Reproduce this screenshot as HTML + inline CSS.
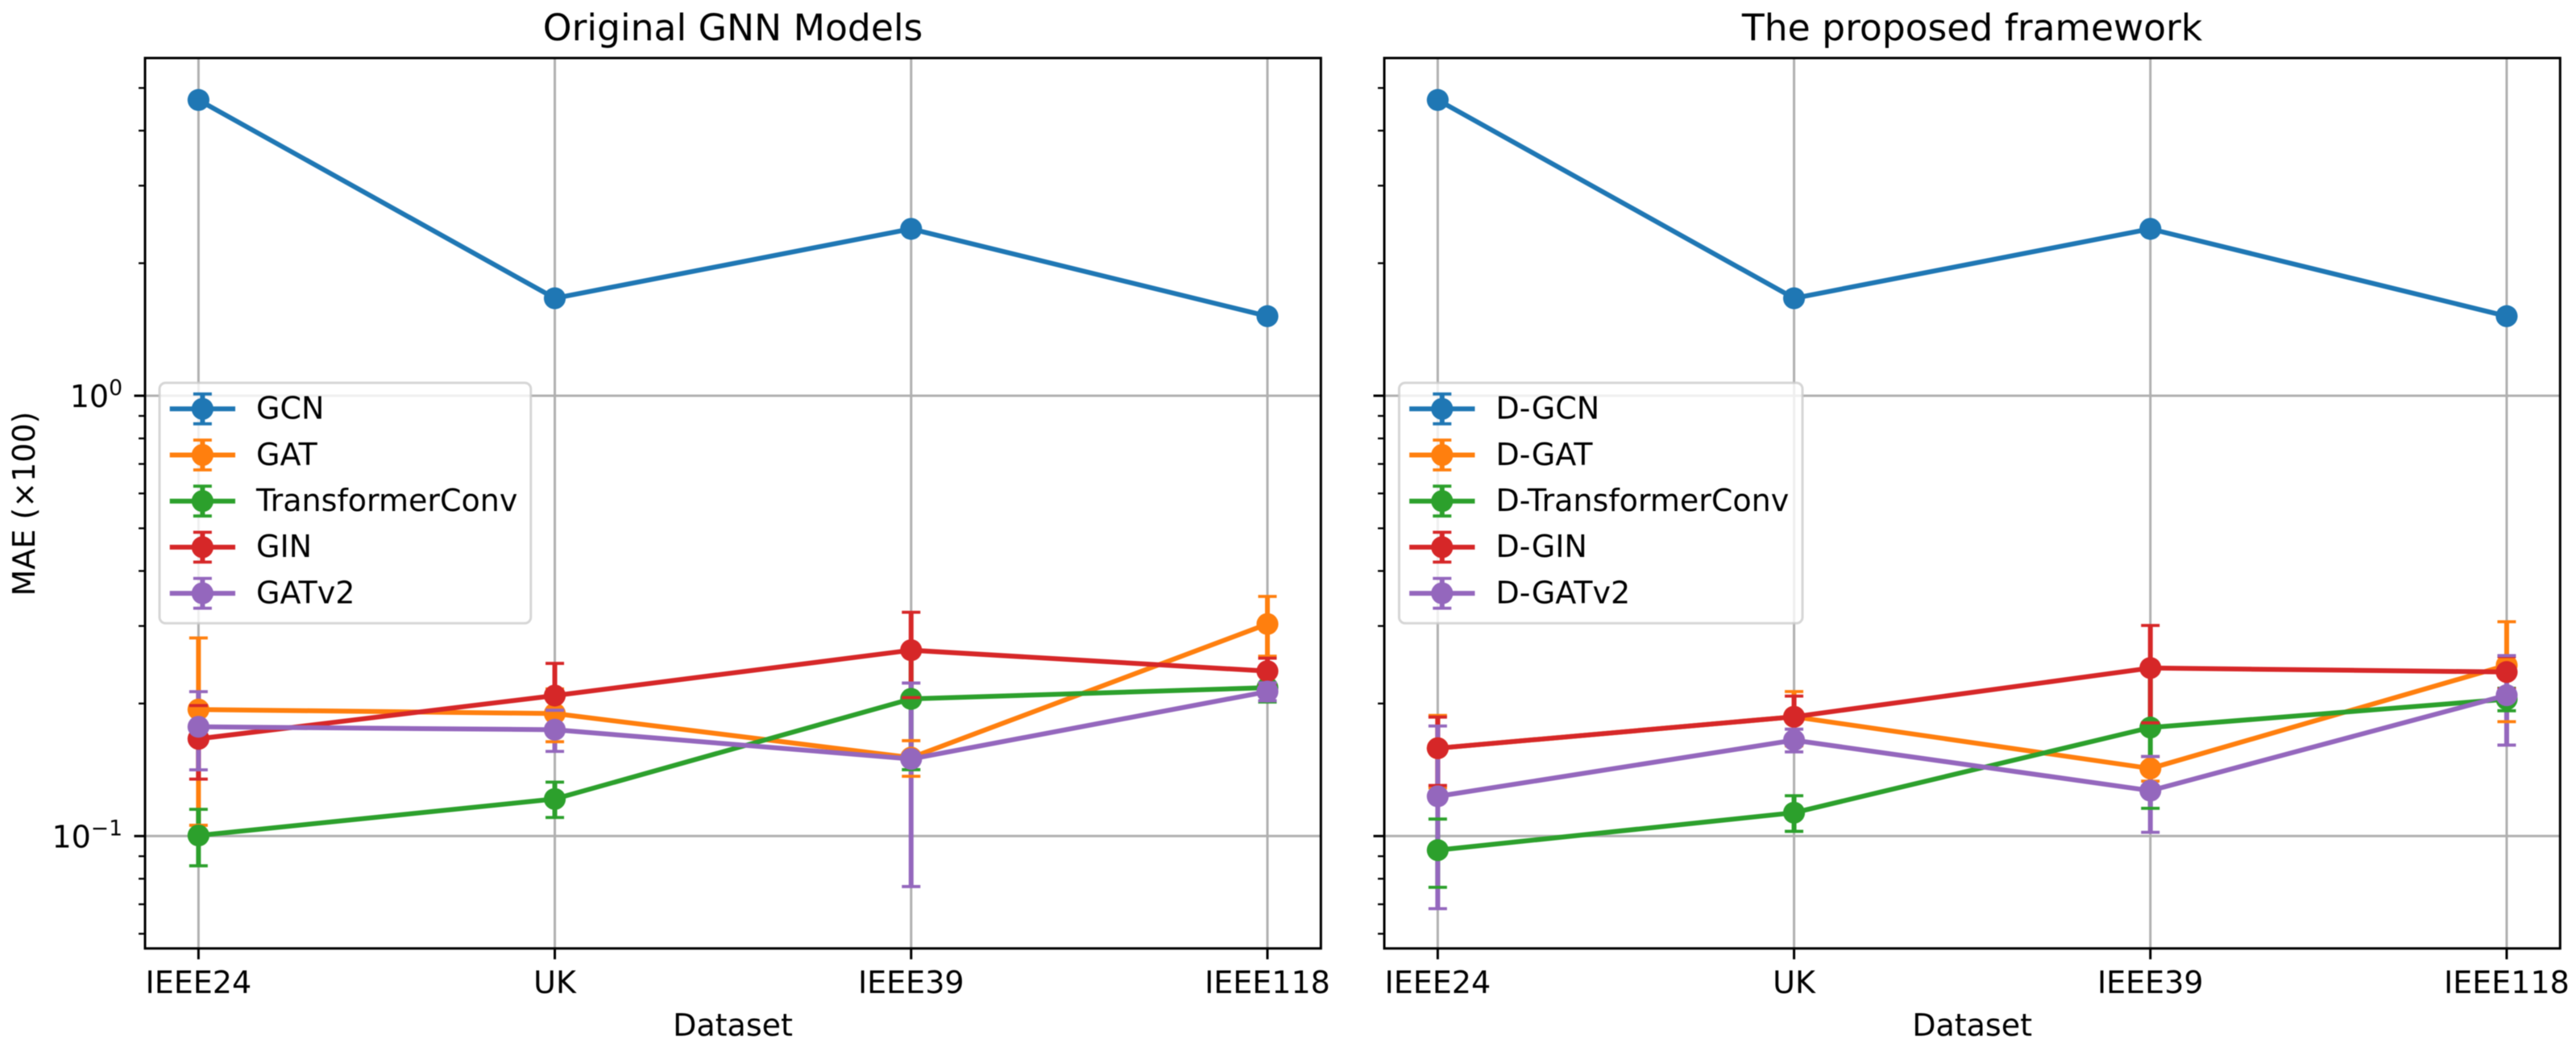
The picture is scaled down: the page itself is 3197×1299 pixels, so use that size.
<!DOCTYPE html>
<html lang="en">
<head>
<meta charset="utf-8">
<title>MAE comparison of GNN models</title>
<style>
html,body{margin:0;padding:0;background:#fff;width:3197px;height:1299px;overflow:hidden}
svg{display:block;filter:blur(0.6px)}
text{font-family:"DejaVu Sans","Liberation Sans",sans-serif;fill:#000}
</style>
</head>
<body>
<svg id="chart" xmlns="http://www.w3.org/2000/svg" width="3197" height="1299" viewBox="0 0 3197 1299">
<rect x="0" y="0" width="3197" height="1299" fill="#ffffff"/>
<text x="909.5" y="50" font-size="45.6" text-anchor="middle">Original GNN Models</text>
<text x="2447.6" y="50" font-size="45.6" text-anchor="middle">The proposed framework</text>
<text x="909.5" y="1285" font-size="38" text-anchor="middle">Dataset</text>
<text x="2447.6" y="1285" font-size="38" text-anchor="middle">Dataset</text>
<text transform="translate(43 625) rotate(-90)" font-size="38" text-anchor="middle">MAE (×100)</text>
</svg>
<script>
const categories = ["IEEE24", "UK", "IEEE39", "IEEE118"];
const seriesColors = ["#1f77b4", "#ff7f0e", "#2ca02c", "#d62728", "#9467bd"];
const leftSeriesNames = ["GCN", "GAT", "TransformerConv", "GIN", "GATv2"];
const rightSeriesNames = ["D-GCN", "D-GAT", "D-TransformerConv", "D-GIN", "D-GATv2"];

const yMajorTicks = [1, 0.1];
const yMajorBases = ["10", "10"];
const yMajorExponents = ["0", "\u22121"];
const yMinorTicks = [0.06, 0.07, 0.08, 0.09, 0.2, 0.3, 0.4, 0.5, 0.6, 0.7, 0.8, 0.9, 2, 3, 4, 5];

const leftGcnMean = [4.696, 1.665, 2.393, 1.516];
const leftGcnErr = [0.01, 0.01, 0.01, 0.01];
const leftGatMean = [0.1938, 0.1898, 0.1507, 0.3031];
const leftGatErr = [0.088, 0.026, 0.014, 0.047];
const leftTransformerMean = [0.1003, 0.1214, 0.2049, 0.2173];
const leftTransformerErr = [0.0147, 0.0112, 0.0634, 0.0157];
const leftGinMean = [0.1663, 0.2085, 0.2643, 0.2369];
const leftGinErr = [0.0316, 0.0382, 0.058, 0.0166];
const leftGatv2Mean = [0.1771, 0.1744, 0.1497, 0.2129];
const leftGatv2Err = [0.0357, 0.0187, 0.0729, 0.01];

const rightGcnMean = [4.696, 1.665, 2.393, 1.516];
const rightGcnErr = [0.01, 0.01, 0.01, 0.01];
const rightGatMean = [0.1583, 0.1866, 0.1424, 0.2443];
const rightGatErr = [0.0296, 0.0263, 0.0091, 0.0624];
const rightTransformerMean = [0.0929, 0.113, 0.1764, 0.2046];
const rightTransformerErr = [0.0164, 0.0105, 0.0608, 0.012];
const rightGinMean = [0.1583, 0.1866, 0.2408, 0.2358];
const rightGinErr = [0.028, 0.0213, 0.06, 0.0198];
const rightGatv2Mean = [0.1231, 0.1651, 0.1268, 0.2089];
const rightGatv2Err = [0.0547, 0.0098, 0.0248, 0.048];

const leftMeans = [leftGcnMean, leftGatMean, leftTransformerMean, leftGinMean, leftGatv2Mean];
const leftErrs = [leftGcnErr, leftGatErr, leftTransformerErr, leftGinErr, leftGatv2Err];
const rightMeans = [rightGcnMean, rightGatMean, rightTransformerMean, rightGinMean, rightGatv2Mean];
const rightErrs = [rightGcnErr, rightGatErr, rightTransformerErr, rightGinErr, rightGatv2Err];

const NS = "http://www.w3.org/2000/svg";
const svg = document.getElementById("chart");
const plotTop = 72;
const plotBottom = 1176.7;
const decadeOne = 491;
const decadePx = 546.3;
const markerR = 13.6;
const capHalf = 11.5;
const lw = 6;
const fontSize = 38;

function yScale(v) { return decadeOne - decadePx * Math.log10(v); }
function slug(s) { return s.toLowerCase().replace(/[^a-z0-9]+/g, "-"); }

function addGroup(parent, name) {
  const g = document.createElementNS(NS, "g");
  
  
  parent.appendChild(g);
  return g;
}
function addLine(parent, name, x1, y1, x2, y2, color, width) {
  const el = document.createElementNS(NS, "line");
  
  
  el.setAttribute("x1", x1);
  el.setAttribute("y1", y1);
  el.setAttribute("x2", x2);
  el.setAttribute("y2", y2);
  el.setAttribute("stroke", color);
  el.setAttribute("stroke-width", width);
  parent.appendChild(el);
  return el;
}
function addMarker(parent, name, x, y, color) {
  const el = document.createElementNS(NS, "circle");
  
  
  el.setAttribute("cx", x);
  el.setAttribute("cy", y);
  el.setAttribute("r", markerR);
  el.setAttribute("fill", color);
  parent.appendChild(el);
  return el;
}
function addText(parent, name, x, y, size, anchor, content) {
  const el = document.createElementNS(NS, "text");
  
  
  el.setAttribute("x", x);
  el.setAttribute("y", y);
  el.setAttribute("font-size", size);
  el.setAttribute("text-anchor", anchor);
  el.textContent = content;
  parent.appendChild(el);
  return el;
}

function drawPanel(prefix, left, right, names, means, errs, legendBox, showYLabels) {
  const panel = addGroup(svg, prefix + "-panel");
  const xScale = function (i) { return left + (i + 0.15) / 3.3 * (right - left); };

  const grid = addGroup(panel, prefix + "-grid");
  categories.forEach(function (c, i) {
    addLine(grid, prefix + "-gridline-" + slug(c), xScale(i), plotTop, xScale(i), plotBottom, "#b0b0b0", 3);
  });
  yMajorTicks.forEach(function (v) {
    addLine(grid, prefix + "-gridline-y-" + v, left, yScale(v), right, yScale(v), "#b0b0b0", 3);
  });

  const bars = addGroup(panel, prefix + "-error-bars");
  names.forEach(function (n, s) {
    means[s].forEach(function (m, i) {
      addLine(bars, prefix + "-error-bar-" + slug(n) + "-" + slug(categories[i]), xScale(i), yScale(m + errs[s][i]), xScale(i), yScale(m - errs[s][i]), seriesColors[s], lw);
    });
  });

  const seriesLayer = addGroup(panel, prefix + "-series");
  names.forEach(function (n, s) {
    const g = addGroup(seriesLayer, prefix + "-series-" + slug(n));
    const poly = document.createElementNS(NS, "polyline");
    
    
    poly.setAttribute("points", means[s].map(function (m, i) { return xScale(i) + "," + yScale(m); }).join(" "));
    poly.setAttribute("fill", "none");
    poly.setAttribute("stroke", seriesColors[s]);
    poly.setAttribute("stroke-width", lw);
    poly.setAttribute("stroke-linejoin", "round");
    g.appendChild(poly);
    means[s].forEach(function (m, i) {
      addMarker(g, "point-" + slug(n) + "-" + slug(categories[i]), xScale(i), yScale(m), seriesColors[s]);
      addLine(g, "cap-upper-" + slug(n) + "-" + slug(categories[i]), xScale(i) - capHalf, yScale(m + errs[s][i]), xScale(i) + capHalf, yScale(m + errs[s][i]), seriesColors[s], 3.8);
      addLine(g, "cap-lower-" + slug(n) + "-" + slug(categories[i]), xScale(i) - capHalf, yScale(m - errs[s][i]), xScale(i) + capHalf, yScale(m - errs[s][i]), seriesColors[s], 3.8);
    });
  });

  const ticks = addGroup(panel, prefix + "-ticks");
  categories.forEach(function (c, i) {
    addLine(ticks, prefix + "-x-tick-" + slug(c), xScale(i), plotBottom, xScale(i), plotBottom + 13.5, "#000", 3);
    addText(ticks, prefix + "-x-tick-label-" + slug(c), xScale(i), 1232, fontSize, "middle", c);
  });
  yMinorTicks.forEach(function (v) {
    addLine(ticks, prefix + "-y-minor-tick-" + v, left - 8, yScale(v), left, yScale(v), "#000", 2.3);
  });
  yMajorTicks.forEach(function (v, k) {
    addLine(ticks, prefix + "-y-major-tick-" + v, left - 13.5, yScale(v), left, yScale(v), "#000", 3);
    if (showYLabels) {
      const label = addText(ticks, prefix + "-y-tick-label-" + v, 152, yScale(v) + 14, fontSize, "end", yMajorBases[k]);
      const sup = document.createElementNS(NS, "tspan");
      
      
      sup.setAttribute("dy", "-15");
      sup.setAttribute("font-size", "26.6");
      sup.textContent = yMajorExponents[k];
      label.appendChild(sup);
    }
  });

  const spines = addGroup(panel, prefix + "-spines");
  const frame = document.createElementNS(NS, "rect");
  
  
  frame.setAttribute("x", left);
  frame.setAttribute("y", plotTop);
  frame.setAttribute("width", right - left);
  frame.setAttribute("height", plotBottom - plotTop);
  frame.setAttribute("fill", "none");
  frame.setAttribute("stroke", "#000");
  frame.setAttribute("stroke-width", 3);
  spines.appendChild(frame);

  const legend = addGroup(panel, prefix + "-legend");
  const box = document.createElementNS(NS, "rect");
  
  
  box.setAttribute("x", legendBox.x);
  box.setAttribute("y", 475);
  box.setAttribute("width", legendBox.w);
  box.setAttribute("height", 298.3);
  box.setAttribute("rx", 7.5);
  box.setAttribute("fill", "#ffffff");
  box.setAttribute("fill-opacity", 0.8);
  box.setAttribute("stroke", "#cccccc");
  box.setAttribute("stroke-opacity", 0.8);
  box.setAttribute("stroke-width", 3);
  legend.appendChild(box);
  names.forEach(function (n, s) {
    const cy = 507.3 + 57.2 * s;
    const hx1 = legendBox.x + 12.7;
    const hx2 = hx1 + 81.3;
    const hc = (hx1 + hx2) / 2;
    const entry = addGroup(legend, prefix + "-legend-entry-" + slug(n));
    addLine(entry, "legend-line-" + slug(n), hx1, cy, hx2, cy, seriesColors[s], lw);
    addLine(entry, "legend-error-bar-" + slug(n), hc, cy - 18.5, hc, cy + 18.5, seriesColors[s], lw);
    addLine(entry, "legend-cap-upper-" + slug(n), hc - capHalf, cy - 18.5, hc + capHalf, cy - 18.5, seriesColors[s], 3.8);
    addLine(entry, "legend-cap-lower-" + slug(n), hc - capHalf, cy + 18.5, hc + capHalf, cy + 18.5, seriesColors[s], 3.8);
    addMarker(entry, "legend-marker-" + slug(n), hc, cy, seriesColors[s]);
    addText(entry, "legend-label-" + slug(n), hx2 + 26, cy + 12.3, fontSize, "start", n);
  });
}

drawPanel("left", 180, 1639.3, leftSeriesNames, leftMeans, leftErrs, { x: 198, w: 460.8 }, true);
drawPanel("right", 1718, 3177.3, rightSeriesNames, rightMeans, rightErrs, { x: 1736.4, w: 500.6 }, false);
</script>
</body>
</html>
